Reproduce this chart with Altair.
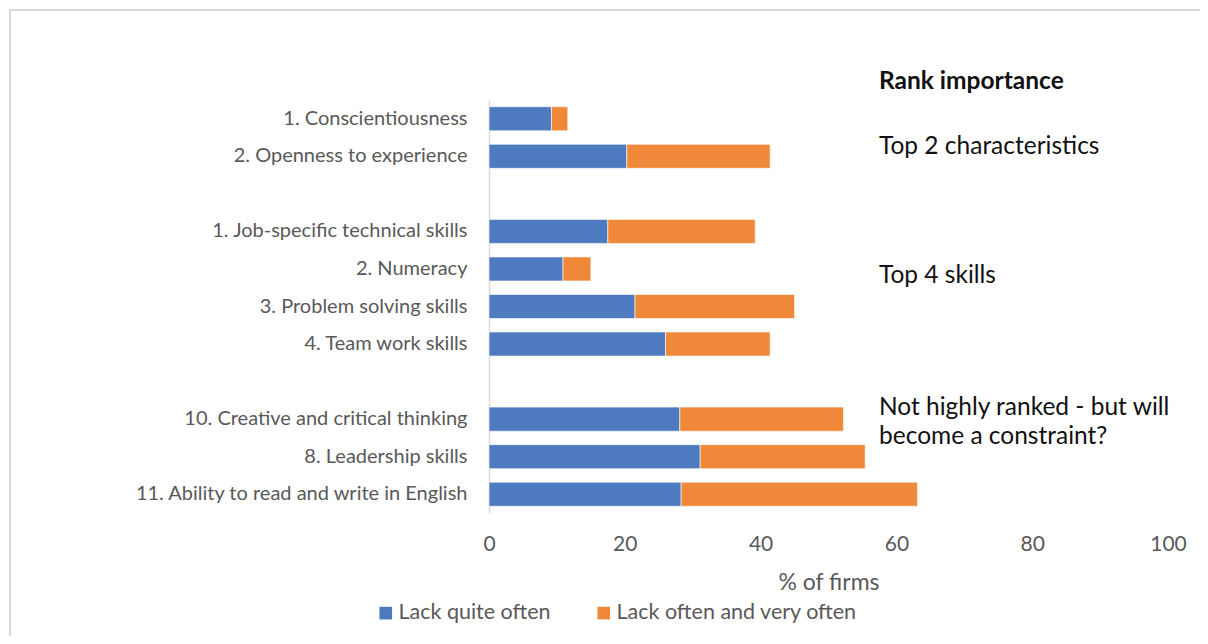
import altair as alt
import pandas as pd

categories = [
    "1. Conscientiousness",
    "2. Openness to experience",
    " ",
    "1. Job-specific technical skills",
    "2. Numeracy",
    "3. Problem solving skills",
    "4. Team work skills",
    "  ",
    "10. Creative and critical thinking",
    "8. Leadership skills",
    "11. Ability to read and write in English",
]
lack_quite_often = [9.2, 20.3, None, 17.5, 10.9, 21.5, 26.0, None, 28.1, 31.1, 28.3]
lack_often_very_often = [2.4, 21.1, None, 21.7, 4.1, 23.5, 15.4, None, 24.1, 24.3, 34.8]
series_names = ["Lack quite often", "Lack often and very often"]
series_colors = ["#4E7BC0", "#EF8839"]

rows = []
for cat, a, b in zip(categories, lack_quite_often, lack_often_very_often):
    if a is None:
        continue
    rows.append({"cat": cat, "series": series_names[0], "order": 0, "value": a})
    rows.append({"cat": cat, "series": series_names[1], "order": 1, "value": b})
df = pd.DataFrame(rows)

FONT = "Lato"
GREY = "#595959"

bars = alt.Chart(df).mark_bar(stroke="white", strokeWidth=0.6).encode(
    x=alt.X(
        "value:Q",
        stack="zero",
        scale=alt.Scale(domain=[0, 100], nice=False),
        axis=alt.Axis(
            values=[0, 20, 40, 60, 80, 100],
            grid=False, domain=False, ticks=False, labelFlush=False,
            labelFont=FONT, labelFontSize=21, labelColor=GREY, labelPadding=20,
            title="% of firms", titleFont=FONT, titleFontSize=23, titleColor=GREY,
            titleFontWeight="normal", titleBaseline="alphabetic", titleY=76,
        ),
    ),
    y=alt.Y(
        "cat:N",
        scale=alt.Scale(domain=categories, paddingInner=0.36, paddingOuter=0.18),
        axis=alt.Axis(
            title=None, ticks=False, grid=False,
            domain=True, domainColor="#D9D9D9", domainWidth=1.5,
            labelFont=FONT, labelFontSize=20, labelColor=GREY, labelPadding=22,
            labelLimit=400,
        ),
    ),
    color=alt.Color(
        "series:N",
        scale=alt.Scale(domain=series_names, range=series_colors),
        legend=alt.Legend(
            title=None, orient="none", direction="horizontal",
            legendX=-114, legendY=502,
            symbolType="square", symbolSize=160, symbolStrokeWidth=0,
            labelFont=FONT, labelFontSize=21.5, labelColor=GREY, labelLimit=400,
            labelOffset=2, columnPadding=42,
        ),
    ),
    order=alt.Order("order:Q"),
)

one = alt.Data(values=[{}])

border = alt.Chart(one).mark_rect(fill="transparent", stroke="#D9D9D9", strokeWidth=2).encode(
    x=alt.value(-479), x2=alt.value(740), y=alt.value(-90), y2=alt.value(600)
)

def note(text, y, bold=False):
    return alt.Chart(one).mark_text(
        align="left", baseline="alphabetic", font=FONT, fontSize=24.5,
        fontWeight="bold" if bold else "normal", color="#111111",
    ).encode(x=alt.value(390), y=alt.value(y), text=alt.value(text))

notes = [
    note("Rank importance", -11, bold=True),
    note("Top 2 characteristics", 54),
    note("Top 4 skills", 183),
    note("Not highly ranked - but will", 315),
    note("become a constraint?", 344),
]

chart = alt.layer(border, bars, *notes).properties(
    width=679, height=413,
    background="white",
    autosize=alt.AutoSizeParams(type="none"),
    padding={"left": 481, "top": 92, "right": 32, "bottom": 123},
).configure_view(strokeWidth=0, stroke=None)

chart.save("out.html", embed_options={"renderer": "svg", "actions": False})
